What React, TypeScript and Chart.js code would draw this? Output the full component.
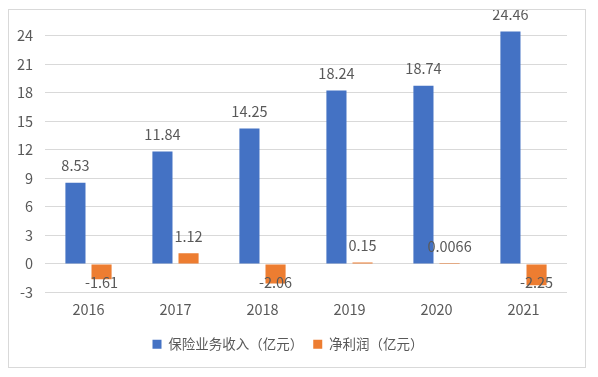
import React, { useEffect, useRef } from "react";
import { Chart, registerables } from "chart.js";

Chart.register(...registerables);

const categories = ["2016", "2017", "2018", "2019", "2020", "2021"];
const revenue = [8.53, 11.84, 14.25, 18.24, 18.74, 24.46];
const revenueLabels = ["8.53", "11.84", "14.25", "18.24", "18.74", "24.46"];
const profit = [-1.61, 1.12, -2.06, 0.15, 0.0066, -2.25];
const profitLabels = ["-1.61", "1.12", "-2.06", "0.15", "0.0066", "-2.25"];
const seriesNames = ["保险业务收入（亿元）", "净利润（亿元）"];
const yTicks = [-3, 0, 3, 6, 9, 12, 15, 18, 21, 24];
const yMin = -3;
const yMax = 24.5;

const FONT = "'Noto Sans CJK SC', 'Noto Sans', sans-serif";
const TEXT = "#595959";

const labelPlugin = {
  id: "valueLabels",
  afterDatasetsDraw(chart: any) {
    const ctx = chart.ctx;
    const area = chart.chartArea;
    const labelSets = [revenueLabels, profitLabels];
    ctx.save();
    ctx.font = `14.5px ${FONT}`;
    ctx.fillStyle = TEXT;
    ctx.textAlign = "center";
    ctx.textBaseline = "middle";
    chart.data.datasets.forEach((ds: any, di: number) => {
      const meta = chart.getDatasetMeta(di);
      meta.data.forEach((el: any, i: number) => {
        const v = ds.data[i];
        let y: number;
        if (v >= 0) {
          y = el.y - 17;
        } else {
          y = Math.min(el.y + 4, area.bottom - 10);
        }
        ctx.fillText(labelSets[di][i], el.x, y);
      });
    });
    ctx.restore();
  },
};

export default function App() {
  const ref = useRef<HTMLCanvasElement | null>(null);
  useEffect(() => {
    if (!ref.current) return;
    const chart = new Chart(ref.current, {
      type: "bar",
      data: {
        labels: categories,
        datasets: [
          {
            label: seriesNames[0],
            data: revenue,
            backgroundColor: "#4472C4",
            barPercentage: 0.77,
            categoryPercentage: 0.6,
          },
          {
            label: seriesNames[1],
            data: profit,
            backgroundColor: "#ED7D31",
            barPercentage: 0.77,
            categoryPercentage: 0.6,
          },
        ],
      },
      options: {
        animation: false,
        responsive: true,
        maintainAspectRatio: false,
        layout: { padding: { left: 0, right: 18, top: 21, bottom: 6 } },
        plugins: {
          tooltip: { enabled: false },
          legend: {
            position: "bottom",
            labels: {
              boxWidth: 9,
              boxHeight: 9,
              padding: 10,
              color: TEXT,
              font: { family: FONT, size: 13.5 },
            },
          },
        },
        scales: {
          x: {
            grid: { display: false, drawTicks: false },
            border: { display: false },
            ticks: { color: TEXT, padding: 8, font: { family: FONT, size: 14.5 } },
            afterFit: (scale: any) => {
              scale.height = 35;
            },
          },
          y: {
            min: yMin,
            max: yMax,
            grid: { color: "#D9D9D9", drawTicks: false },
            border: { display: false },
            ticks: {
              padding: 12,
              color: TEXT,
              font: { family: FONT, size: 14.5 },
            },
            afterBuildTicks: (scale: any) => {
              scale.ticks = yTicks.map((v) => ({ value: v }));
            },
            afterFit: (scale: any) => {
              scale.width = 36;
            },
          },
        },
      },
      plugins: [labelPlugin],
    });
    return () => chart.destroy();
  }, []);
  return (
    <div
      style={{
        marginTop: 1,
        width: 578,
        height: 359,
        boxSizing: "border-box",
        border: "1px solid #D9D9D9",
        background: "#fff",
      }}
    >
      <div style={{ position: "relative", width: 576, height: 357 }}>
        <canvas ref={ref} />
      </div>
    </div>
  );
}
